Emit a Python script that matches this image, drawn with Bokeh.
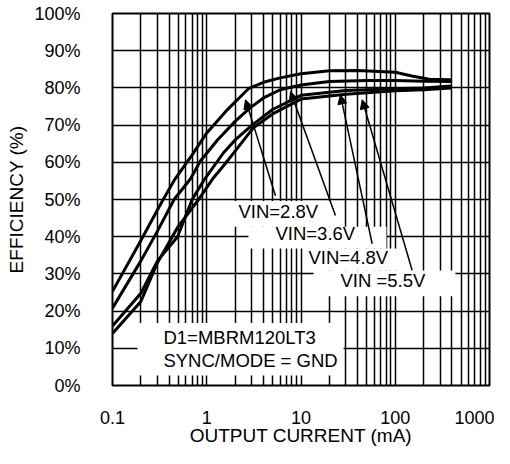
from bokeh.plotting import figure
from bokeh.models import (FixedTicker, PrintfTickFormatter, CustomJSTickFormatter,
                          Arrow, NormalHead, Label, Range1d)
from bokeh.embed import file_html
from bokeh.resources import INLINE

# ---- data (output current in mA, efficiency in %) ----
vin_28_x = [0.1, 0.2, 0.32, 0.46, 0.7, 1.0, 1.65, 2.8, 4.0, 6.0, 10, 20, 40, 100, 150, 230, 390]
vin_28_y = [25.3, 39.0, 48.5, 55.5, 62.0, 67.9, 74.1, 79.9, 81.5, 82.7, 83.8, 84.6, 84.7, 84.2, 83.2, 82.3, 82.2]

vin_36_x = [0.1, 0.2, 0.3, 0.45, 0.67, 0.86, 1.3, 2.0, 2.9, 4.0, 6.0, 10, 20, 50, 100, 200, 390]
vin_36_y = [20.8, 33.5, 41.5, 50.0, 55.5, 60.4, 66.0, 71.0, 74.7, 77.3, 79.5, 80.8, 81.7, 82.0, 82.0, 81.8, 81.7]

vin_48_x = [0.1, 0.2, 0.3, 0.49, 0.7, 0.95, 1.5, 2.0, 3.1, 5.0, 10, 30, 100, 200, 390]
vin_48_y = [16.0, 24.8, 33.5, 40.0, 50.0, 55.5, 62.5, 66.0, 70.2, 74.2, 78.0, 79.3, 79.8, 80.0, 80.5]

vin_55_x = [0.1, 0.2, 0.3, 0.49, 0.82, 1.15, 1.5, 2.0, 3.1, 5.0, 10, 30, 100, 200, 390]
vin_55_y = [14.0, 22.6, 33.0, 42.5, 50.0, 55.5, 59.0, 63.0, 69.2, 73.0, 77.0, 78.3, 79.2, 79.5, 80.0]

x_major = [0.1, 1, 10, 100, 1000]
y_major = [0, 10, 20, 30, 40, 50, 60, 70, 80, 90, 100]
series_labels = ["VIN=2.8V", "VIN=3.6V", "VIN=4.8V", "VIN =5.5V"]
note_lines = ["D1=MBRM120LT3", "SYNC/MODE = GND"]

FONT = "Liberation Sans"

x_minor = [m * d for d in [0.1, 1, 10, 100] for m in range(2, 10)]

p = figure(width=494, height=448, x_axis_type="log",
           x_range=Range1d(0.1, 1000), y_range=Range1d(0, 100),
           output_backend="svg", toolbar_location=None,
           min_border_left=112, min_border_right=5,
           min_border_top=13, min_border_bottom=60)
p.background_fill_color = "white"
p.border_fill_color = "white"
p.outline_line_color = "black"
p.outline_line_width = 2
p.outline_line_alpha = 1.0

# axes
p.xaxis.ticker = FixedTicker(ticks=x_major, minor_ticks=x_minor)
p.xaxis.formatter = CustomJSTickFormatter(code="return tick.toString();")
p.yaxis.ticker = FixedTicker(ticks=y_major, minor_ticks=[])
p.yaxis.formatter = PrintfTickFormatter(format="%d%%")
for ax in (p.xaxis, p.yaxis):
    ax.axis_line_color = None
    ax.major_tick_line_color = None
    ax.minor_tick_line_color = None
    ax.major_label_text_font = FONT
    ax.major_label_text_font_size = "18px"
    ax.major_label_text_color = "black"
    ax.axis_label_text_font = FONT
    ax.axis_label_text_font_size = "19px"
    ax.axis_label_text_font_style = "normal"
    ax.axis_label_text_color = "black"
p.xaxis.major_label_standoff = 19
p.xaxis.axis_label = "OUTPUT CURRENT (mA)"
p.xaxis.axis_label_standoff = -2
p.yaxis.major_label_standoff = 26
p.yaxis.axis_label = "EFFICIENCY (%)"
p.yaxis.axis_label_standoff = 4

# grid
p.xgrid.grid_line_color = "black"
p.xgrid.grid_line_width = 1.5
p.xgrid.minor_grid_line_color = "black"
p.xgrid.minor_grid_line_width = 1.5
p.ygrid.grid_line_color = "black"
p.ygrid.grid_line_width = 1.5

# curves
for xs, ys in [(vin_28_x, vin_28_y), (vin_36_x, vin_36_y),
               (vin_48_x, vin_48_y), (vin_55_x, vin_55_y)]:
    p.line(xs, ys, line_width=3, line_color="black", line_join="round")

# white label boxes
box_left = [1.24, 2.77, 10.6, 13.6, 0.184]
box_right = [23.2, 80.7, 128.5, 435, 28.3]
box_bottom = [42.7, 36.8, 30.9, 24.0, 2.7]
box_top = [49.6, 42.7, 36.8, 30.9, 16.8]
p.quad(left=box_left, right=box_right, bottom=box_bottom, top=box_top,
       fill_color="white", line_color=None)

# series labels
label_pos = [(2.17, 46.8), (5.36, 40.8), (12.0, 34.5), (26.2, 28.3)]
for txt, (lx, ly) in zip(series_labels, label_pos):
    p.add_layout(Label(x=lx, y=ly, text=txt, text_font=FONT, text_font_size="18.5px",
                       text_align="left", text_baseline="middle", text_color="black"))
for txt, ly in zip(note_lines, [12.9, 6.8]):
    p.add_layout(Label(x=0.347, y=ly, text=txt, text_font=FONT, text_font_size="18.5px",
                       text_align="left", text_baseline="middle", text_color="black"))

# arrows
arrows = [((5.36, 51.0), (2.58, 76.8)),
          ((23.2, 45.7), (7.74, 79.0)),
          ((56.9, 38.1), (26.2, 78.1)),
          ((151, 31.0), (44.6, 76.8))]
for (x0, y0), (x1, y1) in arrows:
    p.add_layout(Arrow(x_start=x0, y_start=y0, x_end=x1, y_end=y1,
                       line_width=1.5, line_color="black",
                       end=NormalHead(size=9, fill_color="black", line_color="black")))

open("out.html", "w").write(file_html(p, INLINE))
